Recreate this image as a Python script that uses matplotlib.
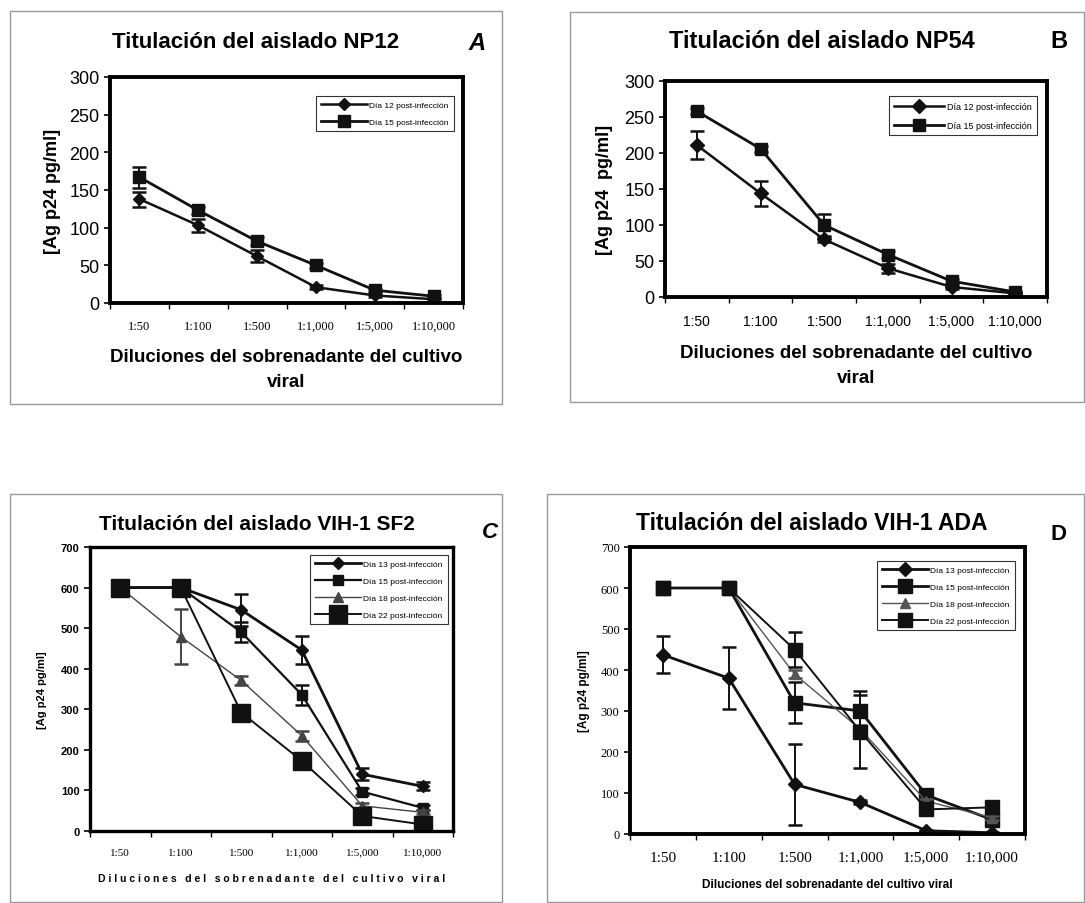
import numpy as np
import matplotlib
matplotlib.use("Agg")
from matplotlib import pyplot as plt
from matplotlib.patches import Rectangle

plt.rcParams["font.family"] = ["Liberation Sans", "DejaVu Sans"]

diluciones = ["1:50", "1:100", "1:500", "1:1,000", "1:5,000", "1:10,000"]

# Panel A - NP12
np12_d12 = [138, 103, 62, 21, 10, 5]
np12_d12_err = [10, 9, 8, 3, 2, 2]
np12_d15 = [167, 123, 82, 50, 17, 9]
np12_d15_err = [14, 5, 5, 3, 2, 2]

# Panel B - NP54
np54_d12 = [211, 144, 80, 40, 14, 5]
np54_d12_err = [19, 17, 4, 6, 3, 2]
np54_d15 = [258, 206, 100, 59, 22, 7]
np54_d15_err = [4, 4, 15, 5, 3, 2]

# Panel C - VIH-1 SF2
sf2_d13 = [600, 600, 545, 446, 140, 110]
sf2_d13_err = [0, 0, 40, 35, 15, 10]
sf2_d15 = [600, 600, 490, 336, 97, 57]
sf2_d15_err = [0, 0, 25, 25, 8, 6]
sf2_d18 = [600, 479, 371, 235, 62, 46]
sf2_d18_err = [0, 68, 10, 12, 6, 5]
sf2_d22 = [600, 600, 292, 173, 37, 16]
sf2_d22_err = [0, 0, 0, 0, 0, 0]

# Panel D - VIH-1 ADA
ada_d13 = [437, 380, 121, 77, 8, 3]
ada_d13_err = [45, 75, 98, 5, 2, 2]
ada_d15 = [600, 600, 320, 300, 95, 35]
ada_d15_err = [0, 0, 50, 50, 8, 8]
ada_d18 = [600, 600, 390, 255, 80, 40]
ada_d18_err = [0, 0, 10, 10, 6, 5]
ada_d22 = [600, 600, 450, 250, 60, 65]
ada_d22_err = [0, 0, 43, 90, 6, 6]

W, H = 1085, 904
fig = plt.figure(figsize=(W / 100, H / 100), dpi=100)


def px_axes(left, top, right, bottom):
    return fig.add_axes([left / W, (H - bottom) / H, (right - left) / W, (bottom - top) / H])


def box(left, top, right, bottom):
    fig.patches.append(Rectangle((left / W, (H - bottom) / H), (right - left) / W, (bottom - top) / H,
                                 transform=fig.transFigure, fill=False, ec="#9a9a9a", lw=1.0))


def style_axes(ax, ymax, ystep, ytick_size, ytick_weight, ytick_family, xtick_size, xtick_family, spine_w):
    x = np.arange(len(diluciones))
    ax.set_xlim(-0.5, 5.5)
    ax.set_ylim(0, ymax)
    ax.set_yticks(np.arange(0, ymax + 1, ystep))
    for lab in ax.get_yticklabels():
        lab.set_fontsize(ytick_size)
        lab.set_fontweight(ytick_weight)
        lab.set_family(ytick_family)
    ax.set_xticks(x)
    ax.set_xticklabels(diluciones, fontsize=xtick_size, family=xtick_family)
    ax.tick_params(axis="x", which="major", length=0, pad=12)
    ax.set_xticks(np.arange(-0.5, 6, 1), minor=True)
    ax.tick_params(axis="x", which="minor", length=4, width=1, direction="out")
    ax.tick_params(axis="y", length=4, width=1.2, direction="out")
    for s in ax.spines.values():
        s.set_linewidth(spine_w)


def plot_series(ax, y, err, marker, ms, color="#111111", lw=1.8, label=None):
    x = np.arange(len(y))
    ax.errorbar(x, y, yerr=err, fmt="none", ecolor=color, capsize=5, capthick=1.8, elinewidth=1.4)
    ax.plot(x, y, color=color, lw=lw, marker=marker, ms=ms, mfc=color, mec=color, label=label)


def legend(ax, anchor, loc, size):
    leg = ax.legend(loc=loc, bbox_to_anchor=anchor, fontsize=size, frameon=True,
                    fancybox=False, edgecolor="black", handlelength=5.5, borderpad=0.6,
                    labelspacing=1.1, handletextpad=0.3)
    leg.get_frame().set_linewidth(0.8)
    return leg


# ---------- A ----------
box(10, 12, 502, 405)
axA = px_axes(110, 78, 463, 304)
plot_series(axA, np12_d12, np12_d12_err, "D", 6.5, label="Día 12 post-infección")
plot_series(axA, np12_d15, np12_d15_err, "s", 8.5, lw=2.0, label="Día 15 post-infección")
style_axes(axA, 300, 50, 13, "normal", "Liberation Sans", 9, "Liberation Serif", 2.8)
axA.set_ylabel("[Ag p24 pg/ml]", fontsize=13, fontweight="bold", labelpad=6)
axA.set_xlabel("Diluciones del sobrenadante del cultivo\nviral", fontsize=13.5,
               fontweight="bold", labelpad=12, linespacing=1.6)
fig.text(256 / W, 1 - 43 / H, "Titulación del aislado NP12", ha="center", va="center",
         fontsize=16, fontweight="bold")
fig.text(468 / W, 1 - 43 / H, "A", ha="left", va="center", fontsize=17,
         fontweight="bold", style="italic")
legend(axA, (0.985, 0.935), "upper right", 6)

# ---------- B ----------
box(570, 13, 1084, 403)
axB = px_axes(665, 82, 1047, 298)
plot_series(axB, np54_d12, np54_d12_err, "D", 7, label="Día 12 post-infección")
plot_series(axB, np54_d15, np54_d15_err, "s", 9, lw=2.0, label="Día 15 post-infección")
style_axes(axB, 300, 50, 13, "normal", "Liberation Sans", 10, "Liberation Sans", 2.8)
axB.set_ylabel("[Ag p24  pg/ml]", fontsize=13, fontweight="bold", labelpad=8)
axB.set_xlabel("Diluciones del sobrenadante del cultivo\nviral", fontsize=13.5,
               fontweight="bold", labelpad=12, linespacing=1.6)
fig.text(822 / W, 1 - 42 / H, "Titulación del aislado NP54", ha="center", va="center",
         fontsize=17, fontweight="bold")
fig.text(1050 / W, 1 - 42 / H, "B", ha="left", va="center", fontsize=17, fontweight="bold")
legend(axB, (0.985, 0.95), "upper right", 6.5)

# ---------- C ----------
box(10, 495, 502, 903)
axC = px_axes(90, 548, 453, 832)
plot_series(axC, sf2_d13, sf2_d13_err, "D", 6.5, lw=2.0, label="Día 13 post-infección")
plot_series(axC, sf2_d15, sf2_d15_err, "s", 6.5, lw=1.6, label="Día 15 post-infección")
plot_series(axC, sf2_d18, sf2_d18_err, "^", 6.5, color="#444444", lw=1.0, label="Día 18 post-infección")
plot_series(axC, sf2_d22, sf2_d22_err, "s", 13, lw=1.4, label="Día 22 post-infección")
style_axes(axC, 700, 100, 8, "bold", "Liberation Sans", 8, "Liberation Serif", 2.4)
axC.set_ylabel("[Ag p24 pg/ml]", fontsize=8, fontweight="bold", labelpad=10)
axC.set_xlabel("D i l u c i o n e s   d e l   s o b r e n a d a n t e   d e l   c u l t i v o   v i r a l",
               fontsize=7.5, fontweight="bold", labelpad=12)
fig.text(257 / W, 1 - 525 / H, "Titulación del aislado VIH-1 SF2", ha="center", va="center",
         fontsize=15, fontweight="bold")
fig.text(482 / W, 1 - 532 / H, "C", ha="left", va="center", fontsize=16,
         fontweight="bold", style="italic")
legC = legend(axC, (0.595, 0.985), "upper left", 6)
legC.set_clip_on(False)

# ---------- D ----------
box(547, 495, 1084, 903)
axD = px_axes(630, 548, 1025, 835)
plot_series(axD, ada_d13, ada_d13_err, "D", 7.5, lw=2.0, label="Día 13 post-infección")
plot_series(axD, ada_d15, ada_d15_err, "s", 9.5, lw=2.0, label="Día 15 post-infección")
plot_series(axD, ada_d18, ada_d18_err, "^", 7.5, color="#555555", lw=1.0, label="Día 18 post-infección")
plot_series(axD, ada_d22, ada_d22_err, "s", 9.5, lw=1.4, label="Día 22 post-infección")
style_axes(axD, 700, 100, 9, "normal", "Liberation Serif", 11, "Liberation Serif", 2.8)
axD.set_ylabel("[Ag p24 pg/ml]", fontsize=8.5, fontweight="bold", labelpad=8)
axD.set_xlabel("Diluciones del sobrenadante del cultivo viral", fontsize=8.5,
               fontweight="bold", labelpad=10)
fig.text(812 / W, 1 - 523 / H, "Titulación del aislado VIH-1 ADA", ha="center", va="center",
         fontsize=16.5, fontweight="bold")
fig.text(1050 / W, 1 - 535 / H, "D", ha="left", va="center", fontsize=16, fontweight="bold")
legend(axD, (0.985, 0.965), "upper right", 6)

fig.savefig("out.png", dpi=100)
